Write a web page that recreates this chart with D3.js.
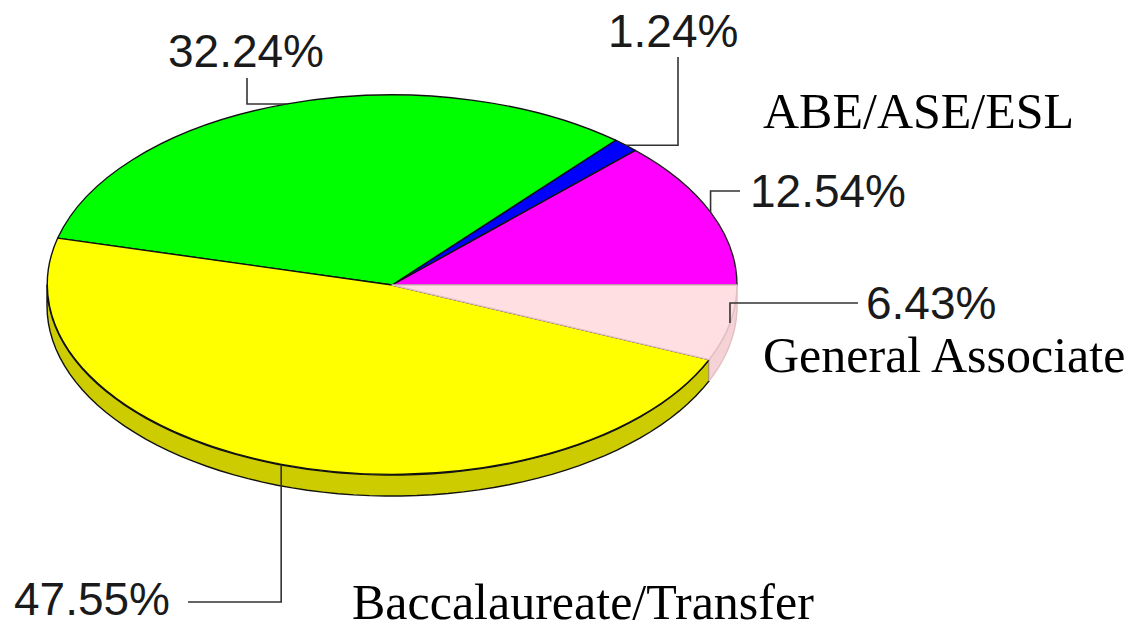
<!DOCTYPE html>
<html>
<head>
<meta charset="utf-8">
<script src="https://cdn.jsdelivr.net/npm/d3@7"></script>
<style>
  body { margin: 0; background: #fff; }
  svg { display: block; }
</style>
</head>
<body>
<svg id="chart" width="1142" height="631"></svg>
<script>
// slice data, going counter-clockwise from 3 o'clock
var sliceNames = ["", "ABE/ASE/ESL", "", "Baccalaureate/Transfer", "General Associate"];
var sliceValues = [12.54, 1.24, 32.24, 47.55, 6.43];
var sliceColors = ["#ff00ff", "#0000ff", "#00ff00", "#ffff00", "#ffdfe1"];
var sideColors = ["#cc00cc", "#0000cc", "#00cc00", "#cccc00", "#f4d2d5"];
var strokeColors = ["#222", "#111", "#111", "#111", "#e2bfc3"];

// pie geometry (ellipse)
var cx = 392, cy = 285, rx = 345, ry = 190, depth = 21;

// where the % labels + leader elbows go
var pctLayout = [
  { tx: 750, ty: 207, mode: "v", ex: 740, ey: 191 },
  { tx: 608, ty: 47, mode: "h", ex: 678, ey: 57 },
  { tx: 168, ty: 67, mode: "h", ex: 247, ey: 78 },
  { tx: 14, ty: 615, mode: "v", ex: 188, ey: 602 },
  { tx: 866, ty: 319, mode: "v", ex: 858, ey: 303 }
];
var nameLayout = [null, { x: 763, y: 128 }, null, { x: 352, y: 619 }, { x: 763, y: 372 }];

var svg = d3.select("#chart");

var data = sliceValues.map(function(v, i) { return { i: i, value: v }; });

// d3 angles: 0 = 12 o'clock clockwise. start at 3 o'clock and go the other way
var pie = d3.pie().sort(null).value(d => d.value)
  .startAngle(Math.PI / 2).endAngle(Math.PI / 2 - 2 * Math.PI);
var arcs = pie(data);

// screen-space ellipse point for a d3 angle
function ept(a, dy) {
  return [cx + rx * Math.sin(a), cy - ry * Math.cos(a) + (dy || 0)];
}

// sides (only the front half shows)
var sideG = svg.append("g");
arcs.forEach(function(d) {
  var a0 = Math.min(d.startAngle, d.endAngle), a1 = Math.max(d.startAngle, d.endAngle);
  // front window is between -3PI/2 and -PI/2 with these negative angles
  var lo = Math.max(a0, -3 * Math.PI / 2), hi = Math.min(a1, -Math.PI / 2);
  if (hi <= lo) return;
  var steps = d3.range(0, 61).map(t => lo + (hi - lo) * t / 60);
  var pts = steps.map(a => ept(a, 0)).concat(steps.slice().reverse().map(a => ept(a, depth)));
  sideG.append("path")
    .attr("d", d3.line()(pts) + "Z")
    .attr("fill", sideColors[d.data.i])
    .attr("stroke", strokeColors[d.data.i])
    .attr("stroke-width", 1.4)
    .attr("stroke-linejoin", "round");
});

// top faces: unit arcs stretched into the ellipse
var arc = d3.arc().innerRadius(0).outerRadius(1);
var topG = svg.append("g")
  .attr("transform", "translate(" + cx + "," + cy + ") scale(" + rx + "," + ry + ")");
topG.selectAll("path")
  .data(arcs)
  .join("path")
  .attr("d", arc)
  .attr("fill", d => sliceColors[d.data.i])
  .attr("stroke", d => strokeColors[d.data.i])
  .attr("stroke-width", 1.4)
  .attr("stroke-linejoin", "round")
  .attr("vector-effect", "non-scaling-stroke");

// leader lines + percent labels
var labG = svg.append("g");
arcs.forEach(function(d) {
  var L = pctLayout[d.data.i];
  var p = ept((d.startAngle + d.endAngle) / 2, 0);
  var pts = L.mode === "v"
    ? [p, [p[0], L.ey], [L.ex, L.ey]]
    : [p, [L.ex, p[1]], [L.ex, L.ey]];
  labG.append("path")
    .attr("d", d3.line()(pts))
    .attr("fill", "none")
    .attr("stroke", "#333")
    .attr("stroke-width", 1.6);
  labG.append("text")
    .attr("x", L.tx)
    .attr("y", L.ty)
    .attr("font-family", "'Liberation Sans', Arial, sans-serif")
    .attr("font-size", 46)
    .attr("fill", "#1a1a1a")
    .text(d3.format(".2f")(d.data.value) + "%");
});

// category names (serif)
sliceNames.forEach(function(n, i) {
  if (!n) return;
  svg.append("text")
    .attr("x", nameLayout[i].x)
    .attr("y", nameLayout[i].y)
    .attr("font-family", "'Liberation Serif', 'Times New Roman', serif")
    .attr("font-size", 50)
    .attr("fill", "#000")
    .text(n);
});
</script>
</body>
</html>
